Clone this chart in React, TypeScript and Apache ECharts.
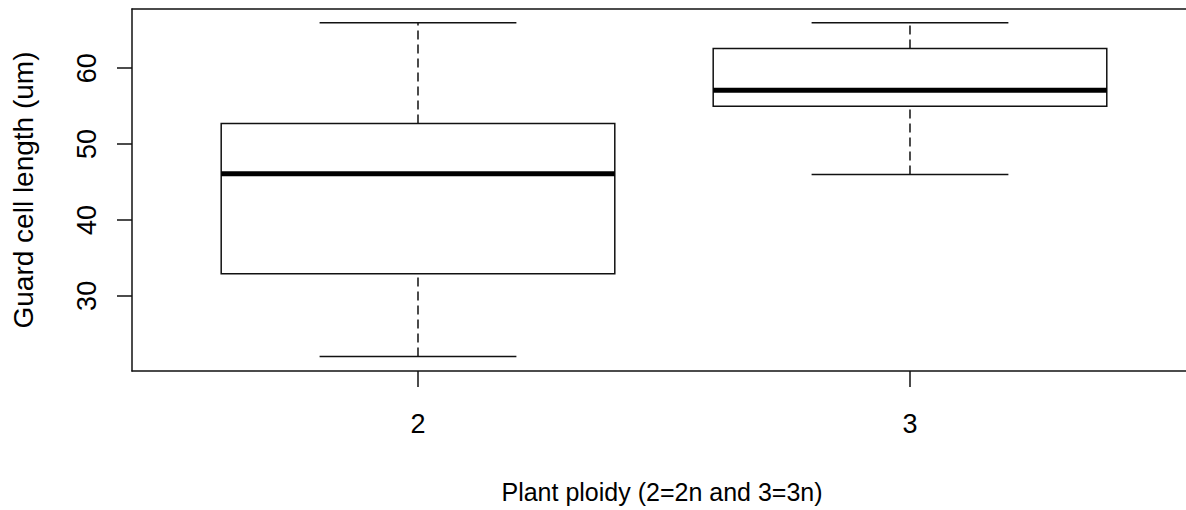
import React, { useEffect, useRef } from "react";
import * as echarts from "echarts";

const categories = ["2", "3"];
const whiskerLow = [22.0, 46.0];
const q1 = [32.9, 55.0];
const median = [46.1, 57.1];
const q3 = [52.7, 62.6];
const whiskerHigh = [66.0, 66.0];
const yTicks = [30, 40, 50, 60];

const FONT = "'Liberation Sans', Arial, sans-serif";

export default function App() {
  const ref = useRef<HTMLDivElement>(null);
  useEffect(() => {
    if (!ref.current) return;
    const chart = echarts.init(ref.current, null, { renderer: "svg" });
    const xVals = categories.map((c) => Number(c));
    const data = categories.map((c, i) => [
      Number(c),
      whiskerLow[i],
      q1[i],
      median[i],
      q3[i],
      whiskerHigh[i],
    ]);
    const xMin = 1.4187;
    const xMax = 3.561;
    const lineColor = "#111";
    chart.setOption({
      animation: false,
      backgroundColor: "#fff",
      grid: {
        left: 132,
        top: 9,
        right: 0,
        bottom: 139,
        show: false,
      },
      xAxis: [
        {
          type: "value",
          min: xMin,
          max: xMax,
          name: "Plant ploidy (2=2n and 3=3n)",
          nameLocation: "middle",
          nameGap: 108,
          nameTextStyle: {
            fontFamily: FONT,
            fontSize: 25,
            color: "#000",
            padding: [0, 0, 0, 6],
          },
          splitLine: { show: false },
          axisLine: { show: true, lineStyle: { color: lineColor, width: 1.5 } },
          axisTick: {
            show: true,
            length: 16,
            inside: false,
            customValues: xVals,
            lineStyle: { color: lineColor, width: 1.5 },
          },
          axisLabel: {
            customValues: xVals,
            margin: 39,
            fontFamily: FONT,
            fontSize: 27,
            color: "#000",
            formatter: (v: number) => categories[xVals.indexOf(v)] ?? String(v),
          },
        },
        {
          type: "value",
          position: "top",
          min: xMin,
          max: xMax,
          splitLine: { show: false },
          axisLine: { show: true, lineStyle: { color: lineColor, width: 1.5 } },
          axisTick: { show: false },
          axisLabel: { show: false },
        },
      ],
      yAxis: {
        type: "value",
        min: 20.1,
        max: 67.8,
        name: "Guard cell length (um)",
        nameLocation: "middle",
        nameRotate: 90,
        nameGap: 95,
        nameTextStyle: { fontFamily: FONT, fontSize: 28, color: "#000" },
        splitLine: { show: false },
        axisLine: { show: true, lineStyle: { color: lineColor, width: 1.5 } },
        axisTick: {
          show: true,
          length: 15,
          inside: false,
          customValues: yTicks,
          lineStyle: { color: lineColor, width: 1.5 },
        },
        axisLabel: {
          customValues: yTicks,
          rotate: 90,
          margin: 32,
          fontFamily: FONT,
          fontSize: 27,
          color: "#000",
        },
      },
      series: [
        {
          type: "custom",
          xAxisIndex: 0,
          yAxisIndex: 0,
          data,
          encode: { x: 0, y: [1, 2, 3, 4, 5] },
          renderItem: (params: any, api: any) => {
            const x = api.value(0);
            const lo = api.value(1);
            const b1 = api.value(2);
            const md = api.value(3);
            const b3 = api.value(4);
            const hi = api.value(5);
            const half = 0.4;
            const cap = 0.2;
            const p = (a: number, b: number) => api.coord([a, b]);
            const tl = p(x - half, b3);
            const br = p(x + half, b1);
            const cLo = p(x, lo);
            const cB1 = p(x, b1);
            const cB3 = p(x, b3);
            const cHi = p(x, hi);
            const capL = p(x - cap, lo);
            const capR = p(x + cap, lo);
            const capHL = p(x - cap, hi);
            const capHR = p(x + cap, hi);
            const mL = p(x - half, md);
            const mR = p(x + half, md);
            const stroke = { stroke: lineColor, lineWidth: 1.5 };
            return {
              type: "group",
              children: [
                {
                  type: "line",
                  shape: { x1: cLo[0], y1: cLo[1], x2: cB1[0], y2: cB1[1] },
                  style: { ...stroke, lineDash: [9, 5] },
                },
                {
                  type: "line",
                  shape: { x1: cB3[0], y1: cB3[1], x2: cHi[0], y2: cHi[1] },
                  style: { ...stroke, lineDash: [9, 5] },
                },
                {
                  type: "line",
                  shape: { x1: capL[0], y1: capL[1], x2: capR[0], y2: capR[1] },
                  style: stroke,
                },
                {
                  type: "line",
                  shape: { x1: capHL[0], y1: capHL[1], x2: capHR[0], y2: capHR[1] },
                  style: stroke,
                },
                {
                  type: "rect",
                  shape: {
                    x: tl[0],
                    y: tl[1],
                    width: br[0] - tl[0],
                    height: br[1] - tl[1],
                  },
                  style: { ...stroke, fill: "#fff" },
                },
                {
                  type: "line",
                  shape: { x1: mL[0], y1: mL[1], x2: mR[0], y2: mR[1] },
                  style: { stroke: "#000", lineWidth: 5 },
                },
              ],
            };
          },
        },
      ],
    });
    return () => chart.dispose();
  }, []);
  return (
    <div
      ref={ref}
      style={{ position: "fixed", left: 0, top: 0, width: 1186, height: 510 }}
    />
  );
}
